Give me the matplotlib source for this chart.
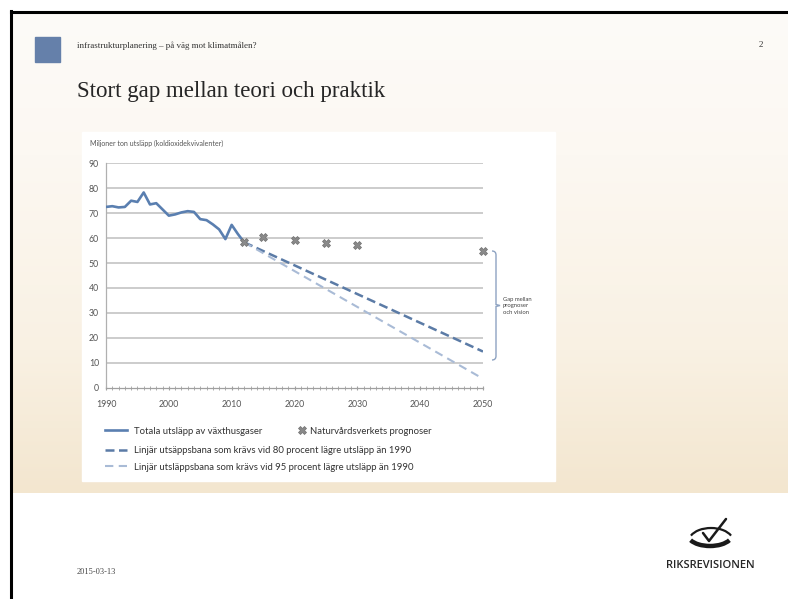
import matplotlib
matplotlib.use("Agg")
import matplotlib.pyplot as plt
import numpy as np
from matplotlib.patches import Rectangle, Arc
from matplotlib.path import Path
from matplotlib.patches import PathPatch
from matplotlib.colors import to_rgb

# --- data ---
years = list(range(1990, 2013))
totals = [72.5, 72.8, 72.3, 72.5, 75.0, 74.5, 78.3, 73.5, 74.0, 71.5, 69.0, 69.5,
          70.3, 70.8, 70.5, 67.6, 67.2, 65.5, 63.5, 59.6, 65.3, 61.6, 58.3]
fc_years = [2012, 2015, 2020, 2025, 2030, 2050]
fc_vals = [58.3, 60.3, 59.2, 58.0, 57.3, 55.0]
path_years = [2012, 2050]
path80 = [58.3, 14.5]
path95 = [58.3, 3.6]
yticks = [0, 10, 20, 30, 40, 50, 60, 70, 80, 90]
xticks = [1990, 2000, 2010, 2020, 2030, 2040, 2050]

W, H = 788, 599
fig = plt.figure(figsize=(W / 100, H / 100), dpi=100)
fig.patch.set_facecolor("white")

# overlay axes in pixel coordinates for the slide decoration
ov = fig.add_axes([0, 0, 1, 1])
ov.set_xlim(0, W)
ov.set_ylim(H, 0)
ov.axis("off")

# slide background gradient
stops = [(12, "#fdfbf8"), (155, "#fcf8f2"), (350, "#f9f1e3"), (493, "#f3e6cf")]
rows = np.arange(12, 494)
sy = [s[0] for s in stops]
cols = np.array([to_rgb(s[1]) for s in stops])
grad = np.stack([np.interp(rows, sy, cols[:, k]) for k in range(3)], axis=1)
grad = grad[:, None, :]
ov.imshow(grad, extent=(11, W, 493, 12), aspect="auto", zorder=0)
ov.set_xlim(0, W)
ov.set_ylim(H, 0)

# border lines
ov.plot([11, W], [11.5, 11.5], color="black", lw=2.2, zorder=1)
ov.plot([11, 11], [11, H], color="black", lw=2.2, zorder=1)

# header
ov.add_patch(Rectangle((35, 37), 25, 25, color="#6580aa", zorder=2))
ov.text(77, 46, "infrastrukturplanering – på väg mot klimatmålen?", fontsize=6.5,
        family="Liberation Serif", color="#333333", va="center", ha="left")
ov.text(761, 45, "2", fontsize=6.5, family="Liberation Serif", color="#333333",
        va="center", ha="center")
ov.text(77, 92, "Stort gap mellan teori och praktik", fontsize=16.5,
        family="Liberation Serif", color="#262626", va="center", ha="left")

# chart panel
ov.add_patch(Rectangle((82, 132), 473, 349, color="white", zorder=2))
ov.text(90, 143, "Miljoner ton utsläpp (koldioxidekvivalenter)", fontsize=5,
        family="Lato", color="#555555", va="center", ha="left", zorder=3)

# brace + note
bx, top, bot, mid = 492, 251, 360, 305.5
verts = [(bx, top), (bx + 4, top), (bx + 4, top + 4), (bx + 4, mid - 8),
         (bx + 4, mid - 2), (bx + 4, mid - 1), (bx + 8, mid),
         (bx + 4, mid + 1), (bx + 4, mid + 2), (bx + 4, mid + 8),
         (bx + 4, bot - 4), (bx + 4, bot), (bx, bot)]
codes = [Path.MOVETO, Path.CURVE3, Path.CURVE3, Path.LINETO,
         Path.CURVE3, Path.CURVE3, Path.LINETO,
         Path.LINETO, Path.CURVE3, Path.CURVE3,
         Path.LINETO, Path.CURVE3, Path.CURVE3]
ov.add_patch(PathPatch(Path(verts, codes), fill=False, edgecolor="#8ea3c2",
                       lw=1.0, zorder=3))
ov.text(503, 306, "Gap mellan\nprognoser\noch vision", fontsize=4.2, family="Lato",
        color="#444444", va="center", ha="left", linespacing=1.3, zorder=3)

# footer
ov.text(77, 572, "2015-03-13", fontsize=6, family="Liberation Serif",
        color="#444444", va="center", ha="left")
ov.add_patch(Arc((711, 541), 44, 26, theta1=195, theta2=345, color="#1a1a1a", lw=1.6))
ov.add_patch(Arc((710, 535), 44, 22, theta1=15, theta2=165, color="#1a1a1a", lw=3.2))
ov.plot([703, 709, 726], [533, 541, 519], color="#1a1a1a", lw=1.8,
        solid_capstyle="round", solid_joinstyle="round")
ov.text(710, 565, "RIKSREVISIONEN", fontsize=8, family="Open Sans",
        fontweight="semibold", color="#262626", va="center", ha="center")

# main chart axes
ax = fig.add_axes([106 / W, 1 - 387.7 / H, (483 - 106) / W, (387.7 - 163.3) / H])
ax.set_zorder(5)
ax.patch.set_alpha(0)
ax.set_xlim(1990, 2050)
ax.set_ylim(0, 90)

for v in yticks[1:]:
    ax.axhline(v, color="#c4c4c4", lw=1.2, zorder=1)

l_hist, = ax.plot(years, totals, color="#5a7fb0", lw=1.9, zorder=3)
l80, = ax.plot(path_years, path80, color="#5b7ba6", lw=1.8, dashes=(3.6, 1.8), zorder=3)
l95, = ax.plot(path_years, path95, color="#a9bbd6", lw=1.5, dashes=(4.0, 2.6), zorder=3)
m_fc, = ax.plot(fc_years, fc_vals, linestyle="none", marker="X", markersize=5.5,
                color="#8a8a8a", markeredgecolor="#6f6f6f", markeredgewidth=0.5,
                zorder=4, clip_on=False)

for s in ["top", "right"]:
    ax.spines[s].set_visible(False)
ax.spines["left"].set_color("#b0b0b0")
ax.spines["bottom"].set_color("#a0a0a0")
ax.spines["left"].set_linewidth(0.9)
ax.spines["bottom"].set_linewidth(0.9)

ax.set_yticks(yticks)
ax.set_yticklabels([str(v) for v in yticks])
ax.set_xticks(xticks)
ax.set_xticklabels([str(v) for v in xticks])
ax.set_xticks(range(1990, 2051), minor=True)
ax.tick_params(axis="y", length=0, pad=5, labelsize=6.3, labelcolor="#555555")
ax.tick_params(axis="x", which="major", length=3, direction="inout", color="#a0a0a0",
               pad=7, labelsize=6.3, labelcolor="#555555")
ax.tick_params(axis="x", which="minor", length=3, direction="inout", color="#a0a0a0")
for lab in ax.get_xticklabels() + ax.get_yticklabels():
    lab.set_family("Lato")

# legends
lprops = {"family": "Lato", "size": 6.8}
leg1 = fig.legend([l_hist], ["Totala utsläpp av växthusgaser"],
                  loc="center left", bbox_to_anchor=(105 / W, 1 - 431 / H),
                  frameon=False, borderpad=0, borderaxespad=0, handlelength=2.3,
                  handletextpad=0.8, prop=lprops)
leg1b = fig.legend([m_fc], ["Naturvårdsverkets prognoser"],
                   loc="center left", bbox_to_anchor=(298 / W, 1 - 431 / H),
                   frameon=False, borderpad=0, borderaxespad=0, handlelength=0.8,
                   handletextpad=0.5, prop=lprops)
leg2 = fig.legend([l80, l95],
                  ["Linjär utsäppsbana som krävs vid 80 procent lägre utsläpp än 1990",
                   "Linjär utsläppsbana som krävs vid 95 procent lägre utsläpp än 1990"],
                  loc="center left", bbox_to_anchor=(105 / W, 1 - 459 / H),
                  frameon=False, borderpad=0, borderaxespad=0, handlelength=2.3,
                  handletextpad=0.8, labelspacing=0.75, prop=lprops)
for leg in (leg1, leg1b, leg2):
    leg.set_zorder(6)
    for t in leg.get_texts():
        t.set_color("#333333")

fig.savefig("out.png", dpi=100)
